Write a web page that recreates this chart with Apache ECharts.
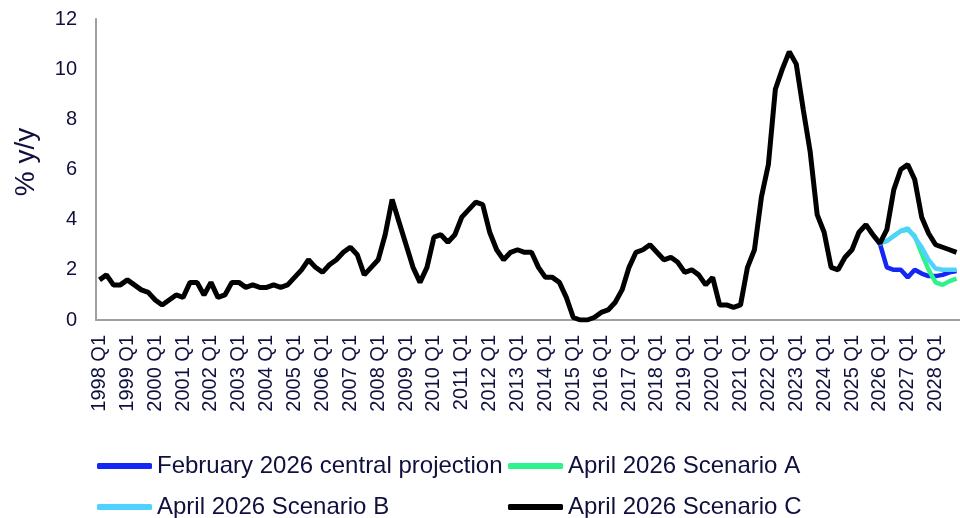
<!DOCTYPE html>
<html>
<head>
<meta charset="utf-8">
<script src="https://cdn.jsdelivr.net/npm/echarts@6.0.0/dist/echarts.min.js"></script>
<style>
html,body{margin:0;padding:0;background:#fff;}
#chart{width:960px;height:518px;}
</style>
</head>
<body>
<div id="chart"></div>
<script>
// Categories: quarterly from 1998 Q1 to 2028 Q4
var years = [];
for (var y = 1998; y <= 2028; y++) years.push(y);
var quarters = ['Q1', 'Q2', 'Q3', 'Q4'];
var categories = [];
years.forEach(function (yr) { quarters.forEach(function (q) { categories.push(yr + ' ' + q); }); });

// Outturn, 1998 Q1 - 2025 Q4 (% y/y)
var outturn = [
  1.6, 1.8, 1.4, 1.4,
  1.6, 1.4, 1.2, 1.1,
  0.8, 0.6, 0.8, 1.0,
  0.9, 1.5, 1.5, 1.0,
  1.5, 0.9, 1.0, 1.5,
  1.5, 1.3, 1.4, 1.3,
  1.3, 1.4, 1.3, 1.4,
  1.7, 2.0, 2.4, 2.1,
  1.9, 2.2, 2.4, 2.7,
  2.9, 2.6, 1.8, 2.1,
  2.4, 3.4, 4.8, 3.9,
  3.0, 2.1, 1.5, 2.1,
  3.3, 3.4, 3.1, 3.4,
  4.1, 4.4, 4.7, 4.6,
  3.5, 2.8, 2.4, 2.7,
  2.8, 2.7, 2.7, 2.1,
  1.7, 1.7, 1.5, 0.9,
  0.1, 0.0, 0.0, 0.1,
  0.3, 0.4, 0.7, 1.2,
  2.1, 2.7, 2.8, 3.0,
  2.7, 2.4, 2.5, 2.3,
  1.9, 2.0, 1.8, 1.4,
  1.7, 0.6, 0.6, 0.5,
  0.6, 2.1, 2.8, 4.9,
  6.2, 9.2, 10.0, 10.7,
  10.2, 8.4, 6.7, 4.2,
  3.5, 2.1, 2.0, 2.5,
  2.8, 3.5, 3.8, 3.4
];

// Projections, 2026 Q1 - 2028 Q4
var febCentral = [3.05, 2.1, 2.0, 2.0, 1.7, 2.0, 1.85, 1.75, 1.75, 1.8, 1.9, 1.95];
var scenarioA  = [3.05, 3.15, 3.35, 3.55, 3.6, 3.35, 2.65, 2.0, 1.5, 1.4, 1.55, 1.65];
var scenarioB  = [3.05, 3.15, 3.35, 3.55, 3.65, 3.3, 2.9, 2.4, 2.05, 2.0, 2.0, 2.0];
var scenarioC  = [3.05, 3.6, 5.2, 6.0, 6.2, 5.6, 4.1, 3.45, 3.0, 2.9, 2.8, 2.7];

var yTicks = { min: 0, max: 12, interval: 2 };
var yTitle = '% y/y';

var names = ['February 2026 central projection', 'April 2026 Scenario A', 'April 2026 Scenario B', 'April 2026 Scenario C'];
var colors = ['#1428f5', '#2ef28c', '#4fd2ff', '#000000'];

function projSeries(proj) {
  var d = [];
  for (var i = 0; i < outturn.length - 1; i++) d.push(null);
  d.push(outturn[outturn.length - 1]);
  return d.concat(proj);
}

var seriesData = [
  projSeries(febCentral),
  projSeries(scenarioA),
  projSeries(scenarioB),
  outturn.concat(scenarioC)
];

var textColor = '#10103f';
var font = "'Liberation Sans', Arial, sans-serif";

// legend placement: [left, top] for each series
var legendPos = [[97, 454], [508, 454], [97, 495], [508, 495]];

var chart = echarts.init(document.getElementById('chart'), null, { renderer: 'canvas' });
chart.setOption({
  animation: false,
  backgroundColor: '#ffffff',
  textStyle: { fontFamily: font, color: textColor },
  grid: { left: 96, top: 19, width: 868, height: 301, containLabel: false },
  legend: names.map(function (n, i) {
    return {
      orient: 'horizontal', left: legendPos[i][0], top: legendPos[i][1],
      itemWidth: 55, itemHeight: 6, icon: 'roundRect', padding: 0,
      textStyle: { fontSize: 24, color: textColor, fontFamily: font },
      data: [n]
    };
  }),
  graphic: [{
    type: 'text', x: 26, y: 162, rotation: Math.PI / 2,
    style: {
      text: yTitle, fill: textColor, font: "28px 'Liberation Sans', Arial, sans-serif",
      align: 'center', verticalAlign: 'middle'
    }
  }],
  xAxis: {
    type: 'category',
    data: categories,
    boundaryGap: true,
    axisLine: { lineStyle: { color: '#a0a0a0', width: 2 } },
    axisTick: { show: false },
    axisLabel: {
      interval: 3, rotate: 90, fontSize: 20, color: textColor, fontFamily: font, margin: 15
    },
    splitLine: { show: false }
  },
  yAxis: {
    type: 'value',
    min: yTicks.min, max: yTicks.max, interval: yTicks.interval,
    axisLine: { show: true, lineStyle: { color: '#a0a0a0', width: 2 } },
    axisTick: { show: false },
    axisLabel: { fontSize: 20, color: textColor, fontFamily: font, margin: 19 },
    splitLine: { show: false }
  },
  series: names.map(function (n, i) {
    return {
      name: n, type: 'line', data: seriesData[i],
      showSymbol: false, symbol: 'none', connectNulls: false,
      color: colors[i],
      lineStyle: { color: colors[i], width: i === 3 ? 5 : 4.5 },
      itemStyle: { color: colors[i] },
      z: 2 + i
    };
  })
});
</script>
</body>
</html>
